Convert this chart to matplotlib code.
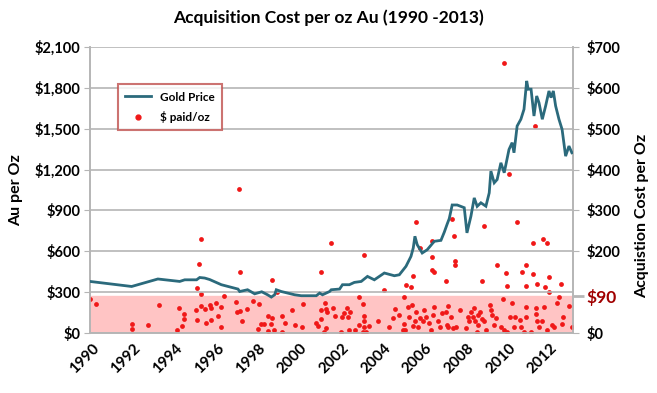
import matplotlib
matplotlib.use('Agg')
import matplotlib.pyplot as plt
from matplotlib.lines import Line2D

plt.rcParams['font.family'] = ['Lato', 'DejaVu Sans']
plt.rcParams['font.weight'] = 'bold'

# gold price (left axis, $/oz)
gold_x = [1989.90, 1991.90, 1993.16, 1994.21, 1994.45, 1995.02, 1995.17, 1995.41, 1995.65,
          1996.21, 1997.01, 1997.09, 1997.47, 1997.81, 1998.15, 1998.43, 1998.61, 1998.77,
          1998.85, 1999.09, 1999.73, 2000.05, 2000.77, 2000.93, 2001.07, 2001.17, 2001.41,
          2001.49, 2001.89, 2002.03, 2002.36, 2002.60, 2002.93, 2003.23, 2003.56, 2004.04,
          2004.52, 2004.76, 2005.08, 2005.32, 2005.43, 2005.51, 2005.62, 2005.86, 2006.10,
          2006.44, 2006.76, 2006.92, 2007.06, 2007.16, 2007.30, 2007.54, 2007.88, 2008.01,
          2008.20, 2008.36, 2008.50, 2008.68, 2008.92, 2009.08, 2009.16, 2009.32, 2009.46,
          2009.64, 2009.80, 2010.03, 2010.18, 2010.27, 2010.42, 2010.60, 2010.75, 2010.88,
          2010.95, 2011.09, 2011.23, 2011.36, 2011.47, 2011.63, 2011.79, 2011.95, 2012.05,
          2012.16, 2012.27, 2012.43, 2012.58, 2012.75, 2012.91, 2013.05]
gold_y = [378, 341, 396, 378, 390, 390, 407, 403, 392,
          354, 322, 304, 317, 287, 302, 280, 263, 280,
          317, 304, 280, 273, 273, 292, 280, 287, 304,
          317, 322, 354, 354, 371, 378, 415, 390, 440,
          420, 427, 489, 562, 624, 710, 648, 587, 611,
          673, 680, 740, 800, 840, 940, 940, 920, 735,
          857, 992, 930, 956, 931, 1029, 1189, 1103, 1127,
          1250, 1177, 1348, 1398, 1324, 1520, 1570, 1643, 1852,
          1791, 1791, 1594, 1741, 1692, 1570, 1668, 1778, 1729,
          1778, 1668, 1570, 1496, 1299, 1373, 1324]

# $ paid per oz (right axis)
paid_x = [1989.90, 1990.17, 1991.93, 1991.93, 1992.67, 1993.21, 1994.06, 1994.18, 1994.30,
          1994.42, 1994.42, 1995.02, 1995.13, 1995.22, 1995.21, 1994.97, 1995.04, 1995.21,
          1995.41, 1995.46, 1995.65,
          1997.06, 1997.09, 1998.66, 2001.01, 1998.90, 1995.70, 1995.73, 1995.94, 1996.05,
          1996.18, 1996.21, 1996.34, 1996.93, 1996.96, 1997.09, 1997.20, 1997.46, 1997.73,
          1998.02, 1997.97, 1998.10, 1998.26, 1998.45, 1998.61, 1998.66, 1998.45, 1998.74,
          1999.12, 1999.12, 1999.25, 1999.60, 1999.73, 2000.10, 2000.13, 2000.77, 2000.84,
          2001.01, 2001.01, 2001.17, 2001.13, 2001.25,
          2001.49, 2003.04, 2004.04, 2005.06, 2005.32, 2005.40, 2005.56, 2005.75, 2006.31,
          2006.31, 2006.31, 2006.44, 2006.98,
          2001.30, 2001.25, 2001.56, 2001.65, 2001.97, 2002.01, 2002.12, 2002.25, 2002.28,
          2002.36, 2002.41, 2002.64, 2002.84, 2002.84, 2003.00, 2003.04, 2003.04, 2003.04,
          2003.00, 2003.17, 2003.28, 2003.75, 2004.28, 2004.44, 2004.57, 2004.76, 2004.92,
          2004.97, 2005.00, 2005.05, 2005.16, 2005.24, 2005.35, 2005.40, 2005.51, 2005.56,
          2005.64, 2005.75, 2005.88, 2005.96, 2006.04, 2006.20, 2006.28, 2006.38, 2006.44,
          2006.60, 2006.73, 2006.79, 2007.00, 2007.08, 2007.05,
          2009.80, 2011.28, 2010.03, 2007.27, 2007.41, 2008.85, 2010.42, 2011.19, 2011.65,
          2011.86, 2007.43, 2007.43, 2008.71, 2009.45, 2009.89, 2009.95, 2010.67, 2010.86,
          2010.86, 2011.20, 2011.39, 2011.75, 2011.95, 2011.97, 2012.51, 2012.43,
          2007.24, 2007.11, 2007.32, 2007.48, 2007.67, 2007.96, 2008.04, 2008.12, 2008.20,
          2008.28, 2008.36, 2008.39, 2008.47, 2008.52, 2008.56, 2008.64, 2008.71, 2008.84,
          2008.92, 2009.12, 2009.16, 2009.23, 2009.32, 2009.40, 2009.64, 2009.76, 2009.80,
          2009.91, 2010.08, 2010.19, 2010.31, 2010.27, 2010.56, 2010.62, 2010.75, 2010.83,
          2010.83, 2011.08, 2011.32, 2011.32, 2011.36, 2011.47, 2011.63, 2011.71, 2011.87,
          2012.10, 2012.21, 2012.35, 2012.56, 2012.64, 2012.91, 2013.07]
paid_y = [82, 71, 21, 9, 20, 68, 7, 62, 17,
          46, 34, 111, 169, 230, 95, 56, 32, 66,
          58, 25, 68,
          352, 150, 130, 148, 100, 60, 32, 73, 42,
          64, 15, 90, 75, 50, 54, 30, 58, 77,
          71, 9, 22, 22, 42, 22, 36, 4, 6,
          42, 2, 25, 56, 20, 15, 70, 24, 18,
          56, 33, 74, 2, 58,
          221, 192, 105, 117, 112, 139, 272, 209, 226,
          185, 154, 148, 127,
          50, 11, 60, 42, 3, 40, 48, 62, 40,
          7, 50, 7, 89, 20, 70, 42, 28, 15,
          1, 1, 18, 29, 14, 36, 59, 44, 7,
          89, 22, 7, 63, 40, 69, 18, 28, 52,
          14, 36, 28, 56, 40, 24, 7, 44, 64,
          28, 15, 48, 52, 66, 20,
          662, 507, 390, 280, 237, 262, 271, 221, 229,
          219, 177, 166, 127, 166, 146, 116, 150, 166,
          115, 144, 119, 112, 138, 100, 119, 89,
          40, 15, 11, 14, 56, 11, 38, 28, 52,
          40, 60, 29, 1, 44, 20, 52, 33, 28,
          7, 68, 55, 44, 20, 36, 14, 84, 7,
          1, 40, 74, 40, 14, 32, 14, 1, 64,
          40, 1, 60, 46, 28, 14, 28, 64, 7,
          20, 15, 73, 21, 40, 67, 14]

years = list(range(1990, 2013, 2))
left_ticks = list(range(0, 2101, 300))
right_ticks = [0, 90, 200, 300, 400, 500, 600, 700]
threshold = 90

teal = '#2b6a7c'
grid_c = '#b5b5b5'

fig = plt.figure(figsize=(6.57, 3.93), dpi=100)
ax = fig.add_axes([0.137, 0.153, 0.735, 0.727])
ax2 = ax.twinx()

ax.set_xlim(1989.9, 2013.1)
ax.set_ylim(0, 2100)
ax2.set_ylim(0, 700)

ax2.axhspan(0, threshold, color='#ffc4c4', zorder=0)
ax2.scatter(paid_x, paid_y, s=12, color='#f01818', zorder=3, linewidths=0)
ax.plot(gold_x, gold_y, color=teal, lw=2.0, zorder=4, solid_joinstyle='miter')

ax.set_zorder(ax2.get_zorder() + 1)
ax.patch.set_visible(False)

ax.set_yticks(left_ticks)
ax.set_yticklabels(['${:,}'.format(v) for v in left_ticks], fontsize=10.5, fontweight='bold')
ax.grid(axis='y', color=grid_c, lw=1.2)
ax.set_axisbelow(True)
ax.set_xticks(years)
ax.set_xticklabels([str(y) for y in years], rotation=45, ha='right', rotation_mode='anchor',
                   fontsize=11, fontweight='bold')
ax.tick_params(axis='x', length=0, pad=6)
ax.tick_params(axis='y', length=4, color=grid_c, pad=3)

ax2.set_yticks(right_ticks)
ax2.set_yticklabels(['${}'.format(v) for v in right_ticks], fontsize=10.5, fontweight='bold')
ax2.tick_params(axis='y', length=4, color=grid_c, pad=6)
t90 = ax2.yaxis.get_major_ticks()[1]
t90.label2.set_color('#a00000')
t90.label2.set_fontsize(12.5)
t90.tick2line.set_color('#a00000')
t90.tick2line.set_markersize(8)
t90.tick2line.set_markeredgewidth(2)

for a in (ax, ax2):
    a.spines['top'].set_visible(False)
    for s in ('left', 'right', 'bottom'):
        a.spines[s].set_color(grid_c)
        a.spines[s].set_linewidth(1.2)

ax.set_ylabel('Au per Oz', fontsize=11.5, fontweight='bold', labelpad=8)
ax2.set_ylabel('Acquistion Cost per Oz', fontsize=11.5, fontweight='bold')
ax2.yaxis.set_label_coords(1.128, 0.41)
fig.suptitle('Acquisition Cost per oz Au (1990 -2013)', fontsize=12.5, fontweight='bold', y=0.975)

handles = [Line2D([], [], color=teal, lw=2.0),
           Line2D([], [], marker='o', ls='', color='#f01818', markersize=3.5)]
leg = ax.legend(handles, ['Gold Price', '$ paid/oz'], loc='upper left',
                bbox_to_anchor=(0.045, 0.89), frameon=True, fancybox=False,
                prop={'size': 8.5, 'weight': 'bold'}, handlelength=2.2, borderpad=0.6,
                labelspacing=0.7)
leg.get_frame().set_edgecolor('#c0504d')
leg.get_frame().set_linewidth(1.5)

plt.savefig('out.png', dpi=100)
